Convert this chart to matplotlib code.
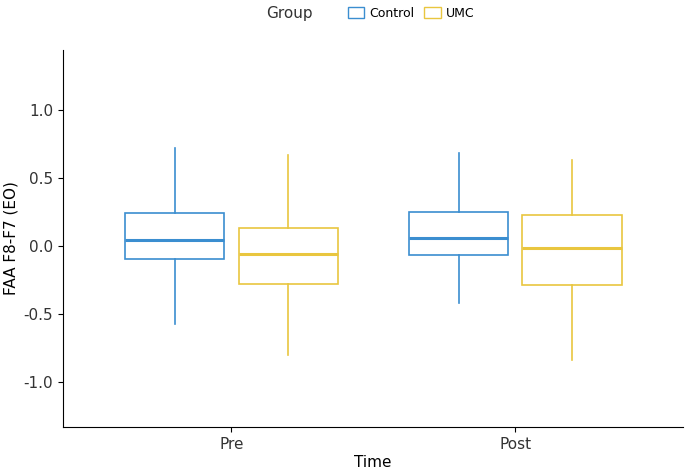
import matplotlib
matplotlib.use("Agg")
import matplotlib.pyplot as plt
from matplotlib.patches import Patch

times = ["Pre", "Post"]
groups = ["Control", "UMC"]
# whislo, q1, med, q3, whishi per group per time
control = [[-0.57, -0.095, 0.04, 0.24, 0.72], [-0.42, -0.066, 0.06, 0.25, 0.68]]
umc = [[-0.80, -0.28, -0.06, 0.13, 0.67], [-0.84, -0.29, -0.015, 0.23, 0.63]]
yticks = [-1.0, -0.5, 0.0, 0.5, 1.0]
colors = {"Control": "#3B8ED0", "UMC": "#E9C63F"}

fig = plt.figure(figsize=(6.85, 4.75), dpi=100)
ax = fig.add_axes([0.092, 0.101, 0.905, 0.794])
for gi, (g, data) in enumerate(zip(groups, [control, umc])):
    stats = [dict(whislo=d[0], q1=d[1], med=d[2], q3=d[3], whishi=d[4], fliers=[]) for d in data]
    pos = [i + 1 + (-0.2 if gi == 0 else 0.2) for i in range(len(times))]
    c = colors[g]
    ax.bxp(stats, positions=pos, widths=0.35, showcaps=False, patch_artist=True,
           boxprops=dict(facecolor="white", edgecolor=c, linewidth=1.2),
           whiskerprops=dict(color=c, linewidth=1.2),
           medianprops=dict(color=c, linewidth=2.2))
ax.set_xlim(0.407, 2.59)
ax.set_ylim(-1.33, 1.44)
ax.set_xticks([1, 2])
ax.set_xticklabels(times, fontsize=11, color="#333333")
ax.set_yticks(yticks)
ax.set_yticklabels([f"{v:.1f}" for v in yticks], fontsize=11, color="#333333")
ax.spines["top"].set_visible(False)
ax.spines["right"].set_visible(False)
ax.set_xlabel("Time", fontsize=11, labelpad=2)
ax.set_ylabel("FAA F8-F7 (EO)", fontsize=11)
handles = [Patch(facecolor="white", edgecolor=colors[g], label=g) for g in groups]
fig.legend(handles=handles, loc="center", bbox_to_anchor=(0.6, 0.972), ncol=2, frameon=False,
           fontsize=9, handlelength=1.3, handleheight=1.0, columnspacing=0.8, handletextpad=0.4)
fig.text(0.388, 0.972, "Group", fontsize=11, va="center", color="#333333")
fig.savefig("out.png", dpi=100)
